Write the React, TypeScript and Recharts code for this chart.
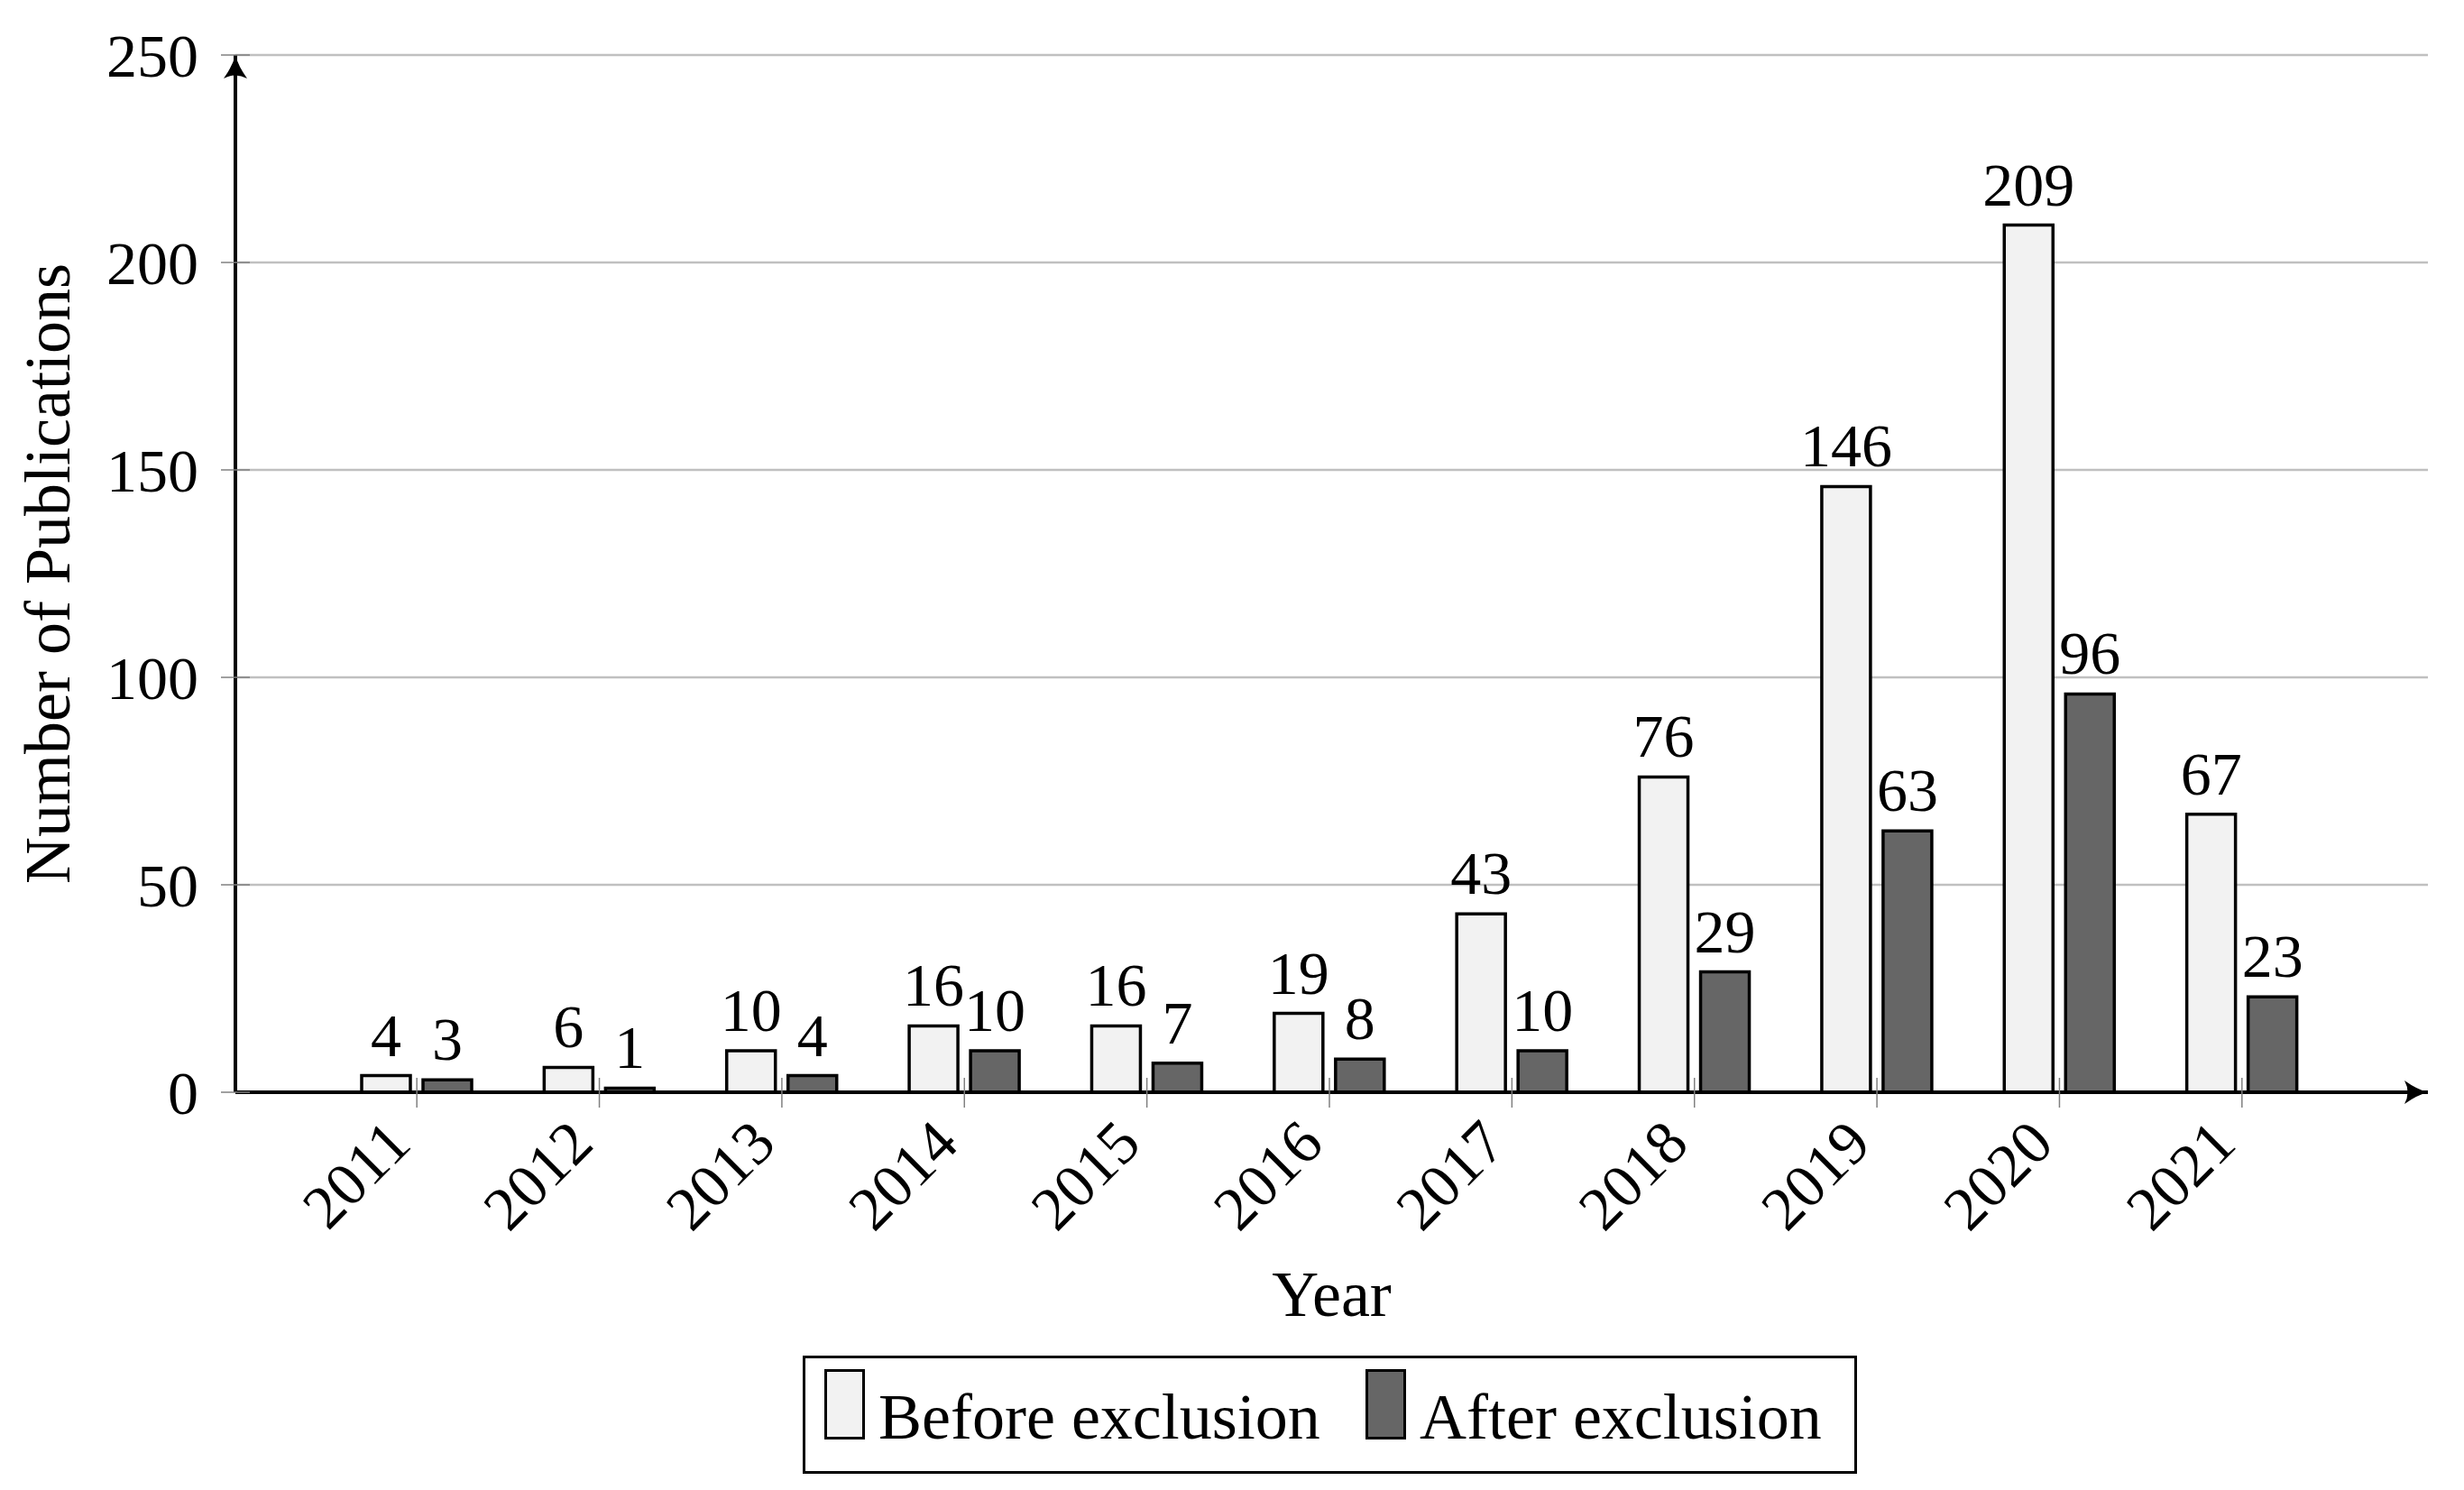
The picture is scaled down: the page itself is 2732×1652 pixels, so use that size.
import React from "react";
import {
  BarChart,
  Bar,
  XAxis,
  YAxis,
  CartesianGrid,
  LabelList,
  Legend,
  Label,
} from "recharts";

const years = ["2011", "2012", "2013", "2014", "2015", "2016", "2017", "2018", "2019", "2020", "2021"];
const beforeExclusion = [4, 6, 10, 16, 16, 19, 43, 76, 146, 209, 67];
const afterExclusion = [3, 1, 4, 10, 7, 8, 10, 29, 63, 96, 23];
const yTicks = [0, 50, 100, 150, 200, 250];
const seriesNames = ["Before exclusion", "After exclusion"];

const data = years.map((year, i) => ({
  year,
  before: beforeExclusion[i],
  after: afterExclusion[i],
}));

const FONT = "'Liberation Serif', 'Times New Roman', serif";
const FS = 68;

const XTick = (props: any) => {
  const { x, y, payload } = props;
  return (
    <g>
      <line x1={x} x2={x} y1={y - 16} y2={y + 17} stroke="#808080" strokeWidth={1.5} />
      <text
        x={x - 4}
        y={y + 60}
        textAnchor="end"
        transform={`rotate(-45, ${x - 4}, ${y + 60})`}
        fontFamily={FONT}
        fontSize={FS}
        fill="#000"
      >
        {payload.value}
      </text>
    </g>
  );
};

const YTick = (props: any) => {
  const { x, y, payload } = props;
  return (
    <g>
      <line x1={x - 16} x2={x + 16} y1={y} y2={y} stroke="#808080" strokeWidth={1.5} />
      <text
        x={x - 41}
        y={y}
        dy="0.35em"
        textAnchor="end"
        fontFamily={FONT}
        fontSize={FS}
        fill="#000"
      >
        {payload.value}
      </text>
    </g>
  );
};

const LegendBox = (props: any) => {
  const items = [...(props.payload || [])].sort(
    (a: any, b: any) => seriesNames.indexOf(a.value) - seriesNames.indexOf(b.value)
  );
  const slots = [24, 624];
  return (
    <svg width={1169} height={131} style={{ display: "block" }}>
      <rect x={1.5} y={1.5} width={1166} height={128} fill="#fff" stroke="#000" strokeWidth={3} />
      {items.map((entry: any, i: number) => {
        const left = slots[i];
        return (
          <g key={entry.value}>
            <rect
              x={left + 1.5}
              y={16.5}
              width={42}
              height={75}
              fill={entry.color}
              stroke="#000"
              strokeWidth={3}
            />
            <text x={left + 60} y={92} fontFamily={FONT} fontSize={72} fill="#000">
              {entry.value}
            </text>
          </g>
        );
      })}
    </svg>
  );
};

export default function App() {
  return (
    <div style={{ position: "absolute", left: 0, top: 0, width: 2732, height: 1652, background: "#fff" }}>
      <BarChart
        width={2732}
        height={1652}
        data={data}
        margin={{ top: 61, left: 201, right: 40, bottom: 381 }}
        barSize={54}
        barGap={14}
      >
        <defs>
          <marker
            id="axisArrow"
            markerUnits="userSpaceOnUse"
            viewBox="-26 -14 28 28"
            refX={0}
            refY={0}
            markerWidth={28}
            markerHeight={28}
            orient="auto-start-reverse"
          >
            <path d="M-26,-13 Q-12,-3 0,0 Q-12,3 -26,13 Q-19,0 -26,-13 Z" fill="#000" />
          </marker>
        </defs>
        <CartesianGrid vertical={false} stroke="#c0c0c0" strokeWidth={2.5} />
        <XAxis
          dataKey="year"
          type="category"
          height={60}
          padding={{ left: 100, right: 105 }}
          tickSize={0}
          tickMargin={0}
          tick={<XTick />}
          tickLine={false}
          interval={0}
          axisLine={{ stroke: "#000", strokeWidth: 4, markerEnd: "url(#axisArrow)" }}
        >
          <Label
            content={(p: any) => {
              const vb = p.viewBox;
              return (
                <text
                  x={vb.x + vb.width / 2}
                  y={vb.y + 223}
                  dy="0.35em"
                  textAnchor="middle"
                  fontFamily={FONT}
                  fontSize={72}
                  fill="#000"
                >
                  Year
                </text>
              );
            }}
          />
        </XAxis>
        <YAxis
          width={60}
          domain={[0, 250]}
          ticks={yTicks}
          tickSize={0}
          tickMargin={0}
          tick={<YTick />}
          tickLine={false}
          axisLine={{ stroke: "#000", strokeWidth: 4, markerStart: "url(#axisArrow)" }}
        >
          <Label
            content={(p: any) => {
              const vb = p.viewBox;
              const cx = vb.x + vb.width - 209;
              const cy = vb.y + vb.height / 2;
              return (
                <text
                  x={cx}
                  y={cy}
                  dy="0.35em"
                  textAnchor="middle"
                  transform={`rotate(-90, ${cx}, ${cy})`}
                  fontFamily={FONT}
                  fontSize={72}
                  fill="#000"
                >
                  Number of Publications
                </text>
              );
            }}
          />
        </YAxis>
        <Legend
          layout="horizontal"
          verticalAlign="middle"
          align="center"
          content={<LegendBox />}
          wrapperStyle={{ position: "absolute", left: 890, top: 1503, right: "auto", bottom: "auto", width: 1169, height: 131 }}
        />
        <Bar
          dataKey="before"
          name="Before exclusion"
          fill="#f2f2f2"
          stroke="#000"
          strokeWidth={3.5}
          isAnimationActive={false}
        >
          <LabelList dataKey="before" position="top" offset={22} fontFamily={FONT} fontSize={FS} fill="#000" />
        </Bar>
        <Bar
          dataKey="after"
          name="After exclusion"
          fill="#666666"
          stroke="#000"
          strokeWidth={3.5}
          isAnimationActive={false}
        >
          <LabelList dataKey="after" position="top" offset={22} fontFamily={FONT} fontSize={FS} fill="#000" />
        </Bar>
      </BarChart>
    </div>
  );
}
